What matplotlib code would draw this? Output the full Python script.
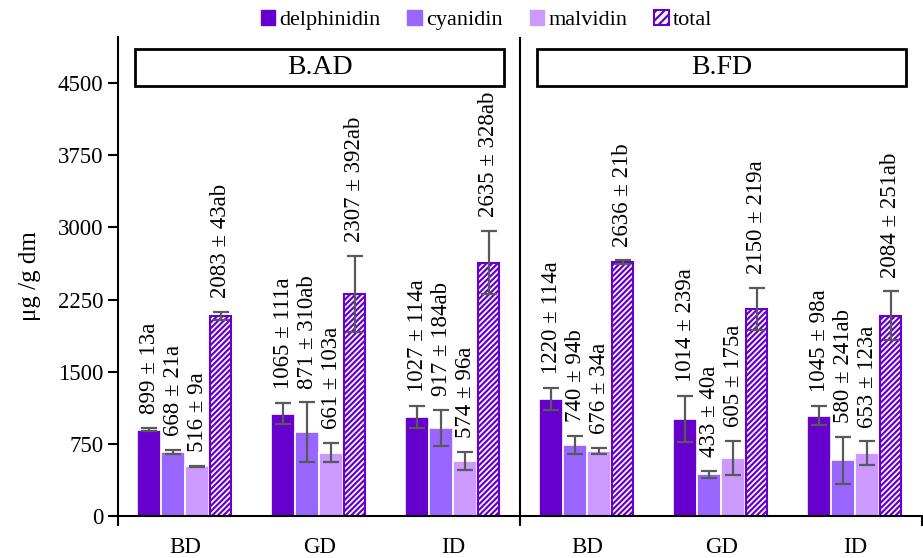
import matplotlib.pyplot as plt
import numpy as np
from matplotlib.patches import Patch, Rectangle

plt.rcParams['font.family'] = ['Liberation Serif', 'DejaVu Serif']
plt.rcParams['hatch.linewidth'] = 1.6

# categories: 3 drying groups in each of 2 panels
groups = ['BD', 'GD', 'ID', 'BD', 'GD', 'ID']
panels = ['B.AD', 'B.FD']
series = ['delphinidin', 'cyanidin', 'malvidin', 'total']

delph = [899, 1065, 1027, 1220, 1014, 1045]
delph_err = [13, 111, 114, 114, 239, 98]
delph_let = ['a', 'a', 'a', 'a', 'a', 'a']

cyan = [668, 871, 917, 740, 433, 580]
cyan_err = [21, 310, 184, 94, 40, 241]
cyan_let = ['a', 'ab', 'ab', 'b', 'a', 'ab']

malv = [516, 661, 574, 676, 605, 653]
malv_err = [9, 103, 96, 34, 175, 123]
malv_let = ['a', 'a', 'a', 'a', 'a', 'a']

total = [2083, 2307, 2635, 2636, 2150, 2084]
total_err = [43, 392, 328, 21, 219, 251]
total_let = ['ab', 'ab', 'ab', 'b', 'a', 'ab']

#######   styling   ######
colors = ['#6600CC', '#9966FF', '#CC99FF', 'white']
purple = '#6600CC'
err_col = '#595959'

fig = plt.figure(figsize=(9.23, 5.58), dpi=100)
ax = fig.add_axes([0.128, 0.075, 0.871, 0.859])

x = np.arange(len(groups))
w = 0.178
vals = [delph, cyan, malv, total]
errs = [delph_err, cyan_err, malv_err, total_err]
lets = [delph_let, cyan_let, malv_let, total_let]

for i in range(4):
    xi = x + (i - 1.5) * w
    if series[i] == 'total':
        ax.bar(xi, vals[i], w * 0.88, color='white', edgecolor=purple,
               hatch='//////', linewidth=1.5, zorder=2)
    else:
        ax.bar(xi, vals[i], w, color=colors[i], edgecolor='white',
               linewidth=1.2, zorder=2)
    ax.errorbar(xi, vals[i], yerr=errs[i], fmt='none', ecolor=err_col,
                elinewidth=1.6, capsize=6, capthick=1.6, zorder=3)
    for k in range(len(groups)):
        lab = f"{vals[i][k]} \u00b1 {errs[i][k]}{lets[i][k]}"
        ax.annotate(lab, (xi[k], vals[i][k] + errs[i][k]),
                    xytext=(0, 10), textcoords='offset points',
                    rotation=90, ha='center', va='bottom', fontsize=16.5)

ax.set_xlim(-0.5, 5.5)
ax.set_ylim(0, 4980)
ax.set_yticks(np.arange(0, 4501, 750))
ax.tick_params(axis='y', labelsize=16.5, length=7, width=1.5, direction='out')
ax.set_xticks(x)
ax.set_xticklabels(groups, fontsize=16.5)
ax.tick_params(axis='x', length=0, pad=15)
ax.set_xticks([-0.5, 2.5, 5.5], minor=True)
ax.tick_params(axis='x', which='minor', length=7, width=1.5)
ax.set_ylabel('\u03bcg /g dm', fontsize=18, labelpad=12)

for s in ['top', 'right']:
    ax.spines[s].set_visible(False)
ax.spines['left'].set_linewidth(1.5)
ax.spines['bottom'].set_linewidth(1.5)

# panel separator
ax.axvline(2.5, color='black', linewidth=1.5, zorder=1)

# panel title boxes
for p, name in enumerate(panels):
    x0 = p * 0.5 + 0.021
    ax.add_patch(Rectangle((x0, 0.897), 0.459, 0.078, transform=ax.transAxes,
                           facecolor='white', edgecolor='black', linewidth=2,
                           clip_on=False, zorder=4))
    ax.text(x0 + 0.2295, 0.936, name, transform=ax.transAxes, fontsize=20,
            ha='center', va='center', zorder=5)

handles = [Patch(facecolor=colors[i], edgecolor=colors[i]) for i in range(3)]
handles.append(Patch(facecolor='white', edgecolor=purple, hatch='////',
                     linewidth=1.5))
fig.legend(handles, series, loc='center', bbox_to_anchor=(0.527, 0.964),
           ncol=4, frameon=False, fontsize=16, handlelength=0.65,
           handleheight=0.65, handletextpad=0.2, columnspacing=1.2)

plt.savefig('out.png', dpi=100)
